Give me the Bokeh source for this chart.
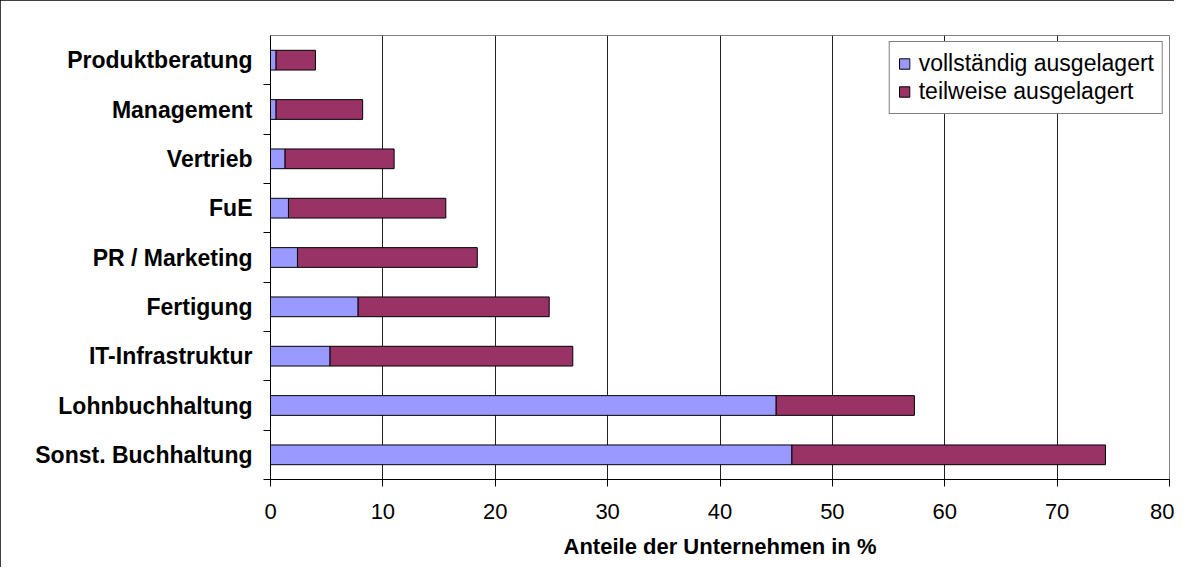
from bokeh.plotting import figure
from bokeh.models import ColumnDataSource, FixedTicker, Range1d
from bokeh.embed import file_html
from bokeh.resources import INLINE

# Data (bottom to top)
categories = ["Sonst. Buchhaltung", "Lohnbuchhaltung", "IT-Infrastruktur", "Fertigung",
              "PR / Marketing", "FuE", "Vertrieb", "Management", "Produktberatung"]
vollstaendig = [46.4, 45.0, 5.3, 7.8, 2.4, 1.6, 1.3, 0.5, 0.5]
teilweise = [27.9, 12.3, 21.6, 17.0, 16.0, 14.0, 9.7, 7.7, 3.5]
series_names = ["vollständig ausgelagert", "teilweise ausgelagert"]
x_ticks = [0, 10, 20, 30, 40, 50, 60, 70, 80]
x_label = "Anteile der Unternehmen in %"

positions = list(range(len(categories)))
source = ColumnDataSource(dict(y=positions, cat=categories, voll=vollstaendig, teil=teilweise))

FONT = "Liberation Sans"

p = figure(width=1174, height=567, output_backend="svg", toolbar_location=None,
           x_range=Range1d(0, 80), y_range=Range1d(-0.5, len(categories) - 0.5),
           min_border_left=270, min_border_right=5, min_border_top=35, min_border_bottom=88,
           background_fill_color="white", border_fill_color="white")

p.hbar_stack(["voll", "teil"], y="y", height=0.4, color=["#9999FF", "#993366"],
             line_color="black", line_width=1, source=source, legend_label=series_names)

# outline of frame
p.outline_line_color = "#808080"
p.outline_line_width = 1

# x axis
p.xaxis.ticker = FixedTicker(ticks=x_ticks)
p.xaxis.axis_line_color = "black"
p.xaxis.major_tick_line_color = "black"
p.xaxis.major_tick_in = 0
p.xaxis.major_tick_out = 7
p.xaxis.minor_tick_line_color = None
p.xaxis.major_label_standoff = 17
p.xaxis.major_label_text_font = FONT
p.xaxis.major_label_text_font_size = "22px"
p.xaxis.major_label_text_color = "black"
p.xaxis.axis_label = x_label
p.xaxis.axis_label_text_font = FONT
p.xaxis.axis_label_text_font_size = "22px"
p.xaxis.axis_label_text_font_style = "bold"
p.xaxis.axis_label_text_color = "black"
p.xaxis.axis_label_standoff = 12

# y axis
p.yaxis.ticker = FixedTicker(ticks=positions, minor_ticks=[i - 0.5 for i in positions])
p.yaxis.major_label_overrides = {i: c for i, c in zip(positions, categories)}
p.yaxis.axis_line_color = "black"
p.yaxis.major_tick_line_color = None
p.yaxis.major_tick_in = 0
p.yaxis.major_tick_out = 0
p.yaxis.minor_tick_line_color = "black"
p.yaxis.minor_tick_in = 0
p.yaxis.minor_tick_out = 7
p.yaxis.major_label_standoff = 11
p.yaxis.major_label_text_font = FONT
p.yaxis.major_label_text_font_size = "23px"
p.yaxis.major_label_text_font_style = "bold"
p.yaxis.major_label_text_color = "black"

# grid
p.ygrid.grid_line_color = None
p.xgrid.ticker = FixedTicker(ticks=x_ticks)
p.xgrid.grid_line_color = "#222222"
p.xgrid.grid_line_width = 1

# legend
lg = p.legend[0]
lg.location = "top_right"
lg.margin = 6
lg.padding = 8
lg.spacing = 1
lg.glyph_width = 13
lg.glyph_height = 13
lg.label_height = 24
lg.label_standoff = 8
lg.label_text_font = FONT
lg.label_text_font_size = "23px"
lg.label_text_color = "black"
lg.border_line_color = "black"
lg.border_line_width = 1
lg.background_fill_color = "white"
lg.background_fill_alpha = 1

p.styles = {"outline": "1px solid black", "outline-offset": "-1px"}

open("out.html", "w").write(file_html(p, INLINE))
